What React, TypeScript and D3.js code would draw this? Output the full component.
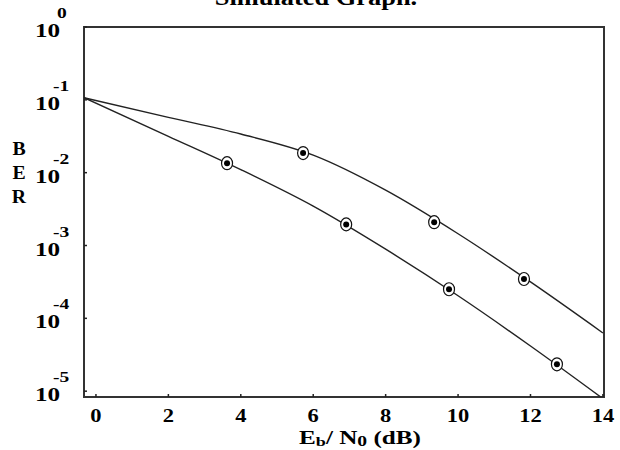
import React from 'react'
import * as d3 from 'd3'

const title = 'Simulated Graph.'
const xTicks = [0, 2, 4, 6, 8, 10, 12, 14]
const yExponents = [0, -1, -2, -3, -4, -5]
const yLetters = ['B', 'E', 'R']

// upper curve (solid line) and its markers
const upperEbN0 = [-0.33, 2, 4, 6, 8, 10, 12, 14]
const upperBer = [0.107, 0.0575, 0.0339, 0.0174, 0.00575, 0.00145, 0.000316, 0.000063]
const upperMarkEbN0 = [5.72, 9.34, 11.82]
const upperMarkBer = [0.0186, 0.00209, 0.000347]

// lower curve and its markers
const lowerEbN0 = [-0.33, 2, 4, 6, 8, 10, 12, 14]
const lowerBer = [0.107, 0.0316, 0.011, 0.00347, 0.00089, 0.000204, 0.0000417, 0.0000079]
const lowerMarkEbN0 = [3.62, 6.91, 9.75, 12.73]
const lowerMarkBer = [0.0135, 0.00195, 0.000251, 0.0000234]

const W = 620
const H = 450
const left = 84
const right = 604
const top = 27
const bottom = 397

// the source figure has wide, horizontally stretched lettering
function Wide(props: { x: number; y: number; sx: number; size: number; anchor?: string; children: any }) {
  return (
    <text
      transform={`translate(${props.x},${props.y}) scale(${props.sx},1)`}
      fontSize={props.size}
      textAnchor={props.anchor || 'start'}
    >
      {props.children}
    </text>
  )
}

export default function App() {
  const x = d3.scaleLinear().domain([-0.33, 14.03]).range([left, right])
  const y = d3.scaleLog().domain([Math.pow(10, -5.08), 1]).range([bottom, top])

  const line = d3
    .line<[number, number]>()
    .x(d => x(d[0]))
    .y(d => y(d[1]))
    .curve(d3.curveMonotoneX)

  const upper = upperEbN0.map((v, i) => [v, upperBer[i]] as [number, number])
  const lower = lowerEbN0.map((v, i) => [v, lowerBer[i]] as [number, number])
  const marks = [
    ...upperMarkEbN0.map((v, i) => [v, upperMarkBer[i]]),
    ...lowerMarkEbN0.map((v, i) => [v, lowerMarkBer[i]]),
  ]

  const font = '"Liberation Serif", "Times New Roman", serif'

  return (
    <svg
      width={W}
      height={H}
      style={{ position: 'absolute', left: 0, top: 0, background: '#fff' }}
      fontFamily={font}
      fontWeight="bold"
    >
      <defs>
        <clipPath id="plot">
          <rect x={left} y={top} width={right - left} height={bottom - top} />
        </clipPath>
      </defs>

      <Wide x={316} y={5} sx={1.1} size={24} anchor="middle">
        {title}
      </Wide>

      {/* frame */}
      <rect x={left} y={top} width={right - left} height={bottom - top} fill="none" stroke="#333" strokeWidth={2} />

      {/* y ticks and labels */}
      {yExponents.map(e => {
        const py = y(Math.pow(10, e))
        return (
          <g key={e}>
            <line x1={left} x2={left + 3} y1={py} y2={py} stroke="#222" strokeWidth={1.5} />
            <Wide x={35} y={py + 10} sx={1.4} size={18}>10</Wide>
            <Wide x={e === 0 ? 57 : 53} y={py - 9} sx={1.3} size={15}>
              {e === 0 ? '0' : e}
            </Wide>
          </g>
        )
      })}

      {/* x ticks and labels */}
      {xTicks.map(t => (
        <g key={t}>
          <line x1={x(t)} x2={x(t)} y1={bottom} y2={bottom - 3} stroke="#222" strokeWidth={1.5} />
          <Wide x={x(t)} y={422} sx={1.25} size={18} anchor="middle">
            {t}
          </Wide>
        </g>
      ))}

      {/* BER stacked label */}
      {yLetters.map((c, i) => (
        <Wide key={c} x={19} y={155 + i * 24} sx={1.1} size={18} anchor="middle">
          {c}
        </Wide>
      ))}

      {/* x axis title */}
      <Wide x={360} y={444} sx={1.4} size={18} anchor="middle">
        E<tspan fontSize={13} dy={2}>b</tspan>
        <tspan dy={-2}>/ N</tspan>
        <tspan fontSize={14} dy={2}>0</tspan>
        <tspan dy={-2}> (dB)</tspan>
      </Wide>

      <g clipPath="url(#plot)">
        <path d={line(upper) || ''} fill="none" stroke="#222" strokeWidth={1.4} />
        <path d={line(lower) || ''} fill="none" stroke="#222" strokeWidth={1.4} />
      </g>

      {marks.map((m, i) => (
        <g key={i} transform={`translate(${x(m[0])},${y(m[1])})`}>
          <ellipse rx={5.5} ry={6.5} fill="#fff" stroke="#111" strokeWidth={1.2} />
          <circle r={3} fill="#000" />
        </g>
      ))}
    </svg>
  )
}
